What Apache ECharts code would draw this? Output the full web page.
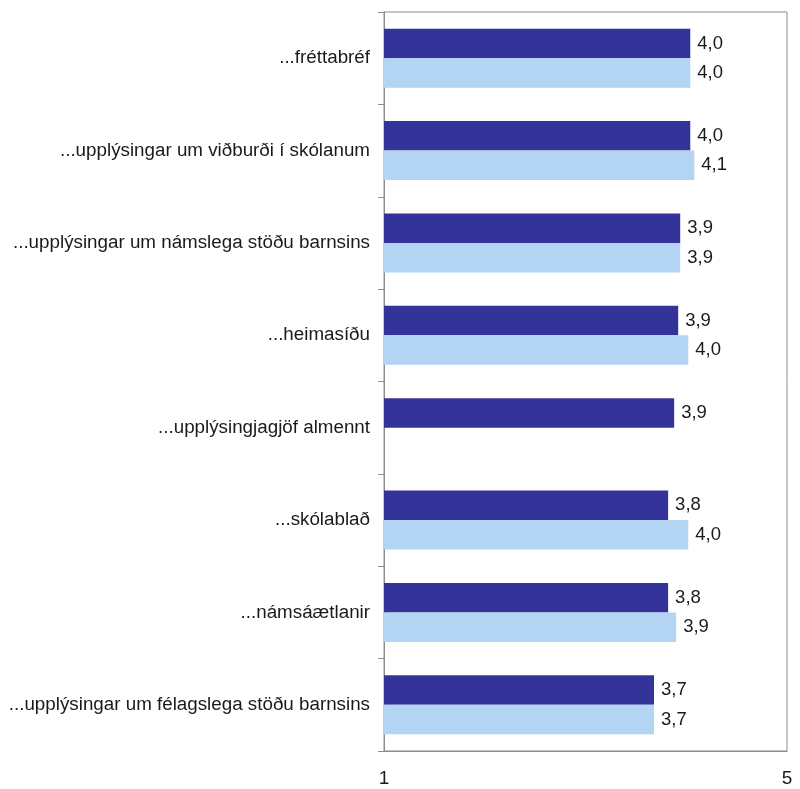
<!DOCTYPE html>
<html>
<head>
<meta charset="utf-8">
<script src="https://cdn.jsdelivr.net/npm/echarts@6/dist/echarts.min.js"></script>
<style>html,body{margin:0;padding:0;background:#fff}#c{width:800px;height:789px}</style>
</head>
<body>
<div id="c"></div>
<script>
const categories = [
  '...fréttabréf',
  '...upplýsingar um viðburði í skólanum',
  '...upplýsingar um námslega stöðu barnsins',
  '...heimasíðu',
  '...upplýsingjagjöf almennt',
  '...skólablað',
  '...námsáætlanir',
  '...upplýsingar um félagslega stöðu barnsins'
];
const seriesA = [4.04, 4.04, 3.94, 3.92, 3.88, 3.82, 3.82, 3.68];
const seriesB = [4.04, 4.08, 3.94, 4.02, null, 4.02, 3.90, 3.68];
const xTickLabels = [1, 5];

const FONT = '"Liberation Sans", Arial, sans-serif';
const fmt = p => p.value == null ? '' : Number(p.value).toFixed(1).replace('.', ',');

const chart = echarts.init(document.getElementById('c'), null, {renderer: 'canvas'});
chart.setOption({
  animation: false,
  backgroundColor: '#ffffff',
  grid: {left: 384, right: 13, top: 12, bottom: 38, show: true, borderColor: '#8c8c8c', borderWidth: 1, containLabel: false},
  xAxis: {
    type: 'value', min: 1, max: 5, interval: 4,
    axisLine: {show: true, lineStyle: {color: '#8c8c8c', width: 1}},
    axisTick: {show: false},
    splitLine: {show: false},
    axisLabel: {
      margin: 18, fontSize: 19, color: '#1a1a1a', fontFamily: FONT,
      formatter: v => xTickLabels.indexOf(v) >= 0 ? String(v) : ''
    }
  },
  yAxis: {
    type: 'category', data: categories, inverse: true,
    axisLine: {show: true, lineStyle: {color: '#8c8c8c', width: 1}},
    axisTick: {show: true, length: 6, lineStyle: {color: '#8c8c8c'}},
    axisLabel: {margin: 14, fontSize: 18.8, color: '#1a1a1a', fontFamily: FONT}
  },
  series: [
    {
      type: 'bar', name: 'A', data: seriesA, barGap: '0%', barCategoryGap: '36%',
      itemStyle: {color: '#333399'},
      label: {show: true, position: 'right', distance: 7, fontSize: 18.5, color: '#1a1a1a', fontFamily: FONT, formatter: fmt}
    },
    {
      type: 'bar', name: 'B', data: seriesB, barGap: '0%', barCategoryGap: '36%',
      itemStyle: {color: '#B3D4F2'},
      label: {show: true, position: 'right', distance: 7, fontSize: 18.5, color: '#1a1a1a', fontFamily: FONT, formatter: fmt}
    }
  ]
});
</script>
</body>
</html>
